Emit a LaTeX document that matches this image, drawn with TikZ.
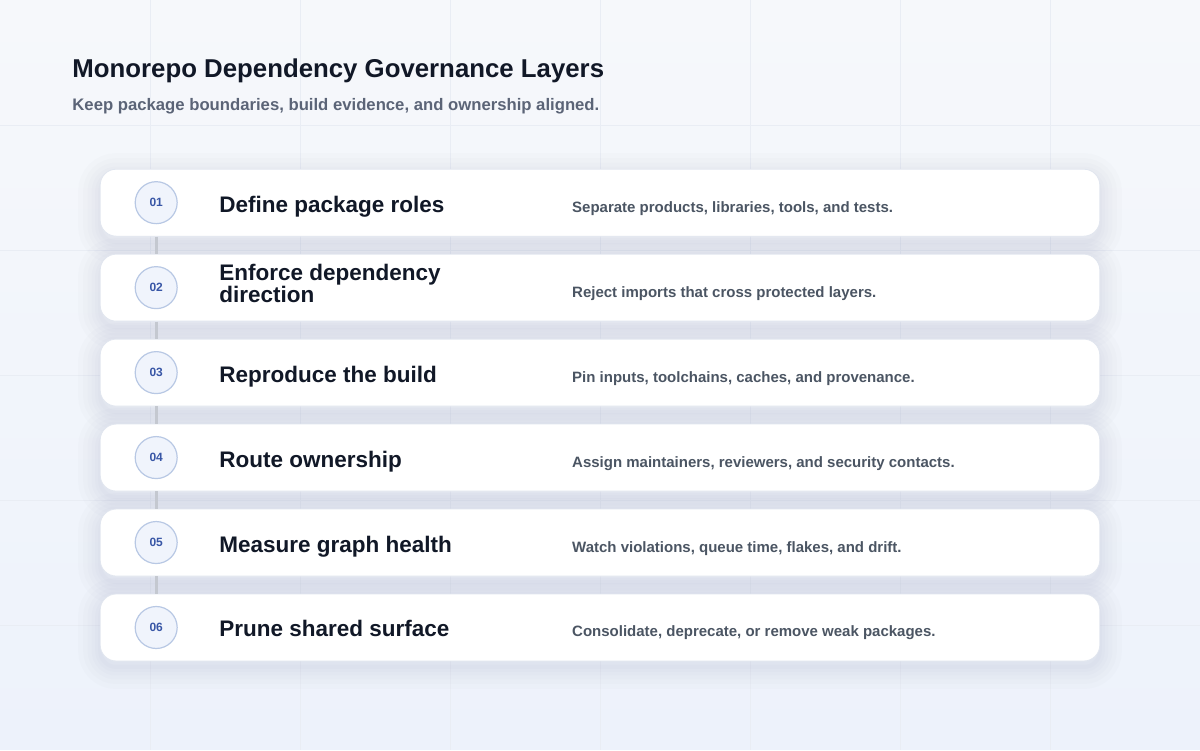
\documentclass[tikz,border=0pt]{standalone}
\usepackage{fontspec}
\setmainfont{Liberation Sans}
\definecolor{bgtop}{HTML}{F6F8FB}
\definecolor{bgbot}{HTML}{EDF2FB}
\definecolor{gridcol}{HTML}{E9EDF4}
\definecolor{titlecol}{HTML}{111827}
\definecolor{subcol}{HTML}{5B6477}
\definecolor{desccol}{HTML}{4B5563}
\definecolor{cardline}{HTML}{E1E6EF}
\definecolor{shadowcol}{HTML}{8894AE}
\definecolor{badgefill}{HTML}{F0F4FC}
\definecolor{badgeline}{HTML}{B8C8E4}
\definecolor{badgetext}{HTML}{3856A6}
\definecolor{linkcol}{HTML}{C4C8D0}
\tikzset{
  halo/.style={preaction={draw=shadowcol, line width=#1,
    draw opacity=0.028, transform canvas={yshift=-6pt}}},
  card/.style={draw=cardline, line width=0.8pt, fill=white, rounded corners=16pt,
    minimum width=1000pt, minimum height=67pt, inner sep=0pt,
    halo=44pt, halo=34pt, halo=25pt, halo=17pt, halo=10pt, halo=4pt},
  badge/.style={circle, draw=badgeline, line width=1.2pt, fill=badgefill,
    minimum size=42pt, inner sep=0pt, text=badgetext,
    font=\fontsize{12}{14}\selectfont\bfseries},
  rowtitle/.style={anchor=base west, align=left, inner sep=0pt, text=titlecol,
    font=\fontsize{22.5}{22}\selectfont\bfseries},
  rowdesc/.style={anchor=base west, inner sep=0pt, text=desccol,
    font=\fontsize{15}{17}\selectfont\bfseries},
  link/.style={draw=linkcol, line width=3pt}
}
\begin{document}
\begin{tikzpicture}[x=1pt,y=-1pt]
% background
\shade[top color=bgtop, bottom color=bgbot] (0,0) rectangle (1200,750);
\draw[gridcol, line width=0.5pt] (150,0) -- (150,750) (300,0) -- (300,750) (450,0) -- (450,750)
  (600,0) -- (600,750) (750,0) -- (750,750) (900,0) -- (900,750) (1050,0) -- (1050,750);
\draw[gridcol, line width=0.5pt] (0,125) -- (1200,125) (0,250) -- (1200,250) (0,375) -- (1200,375)
  (0,500) -- (1200,500) (0,625) -- (1200,625);
\useasboundingbox (0,0) rectangle (1200,750);

% heading
\node[anchor=base west, inner sep=0pt, text=titlecol, font=\fontsize{25.8}{30}\selectfont\bfseries] (title) at (72,77)
  {Monorepo Dependency Governance Layers};
\node[anchor=base west, inner sep=0pt, text=subcol, font=\fontsize{16.7}{19}\selectfont\bfseries] (subtitle) at (72,110)
  {Keep package boundaries, build evidence, and ownership aligned.};

% cards
\node[card] (c1) at (600,202.5) {};
\node[card] (c2) at (600,287.5) {};
\node[card] (c3) at (600,372.5) {};
\node[card] (c4) at (600,457.5) {};
\node[card] (c5) at (600,542.5) {};
\node[card] (c6) at (600,627.5) {};

% badges
\node[badge] (b1) at (156,202.5) {01};
\node[badge] (b2) at (156,287.5) {02};
\node[badge] (b3) at (156,372.5) {03};
\node[badge] (b4) at (156,457.5) {04};
\node[badge] (b5) at (156,542.5) {05};
\node[badge] (b6) at (156,627.5) {06};

% links between cards
\draw[link] (c1.south -| b1.center) -- (c2.north -| b2.center);
\draw[link] (c2.south -| b2.center) -- (c3.north -| b3.center);
\draw[link] (c3.south -| b3.center) -- (c4.north -| b4.center);
\draw[link] (c4.south -| b4.center) -- (c5.north -| b5.center);
\draw[link] (c5.south -| b5.center) -- (c6.north -| b6.center);

% row titles
\node[rowtitle] (t1) at (219,212) {Define package roles};
\node[rowtitle] (t2) at (219,302) {Enforce dependency\\direction};
\node[rowtitle] (t3) at (219,382) {Reproduce the build};
\node[rowtitle] (t4) at (219,467) {Route ownership};
\node[rowtitle] (t5) at (219,552) {Measure graph health};
\node[rowtitle] (t6) at (219,637) {Prune shared surface};

% descriptions
\node[rowdesc] (d1) at (572,212) {Separate products, libraries, tools, and tests.};
\node[rowdesc] (d2) at (572,297) {Reject imports that cross protected layers.};
\node[rowdesc] (d3) at (572,382) {Pin inputs, toolchains, caches, and provenance.};
\node[rowdesc] (d4) at (572,467) {Assign maintainers, reviewers, and security contacts.};
\node[rowdesc] (d5) at (572,552) {Watch violations, queue time, flakes, and drift.};
\node[rowdesc] (d6) at (572,637) {Consolidate, deprecate, or remove weak packages.};
\end{tikzpicture}
\end{document}
